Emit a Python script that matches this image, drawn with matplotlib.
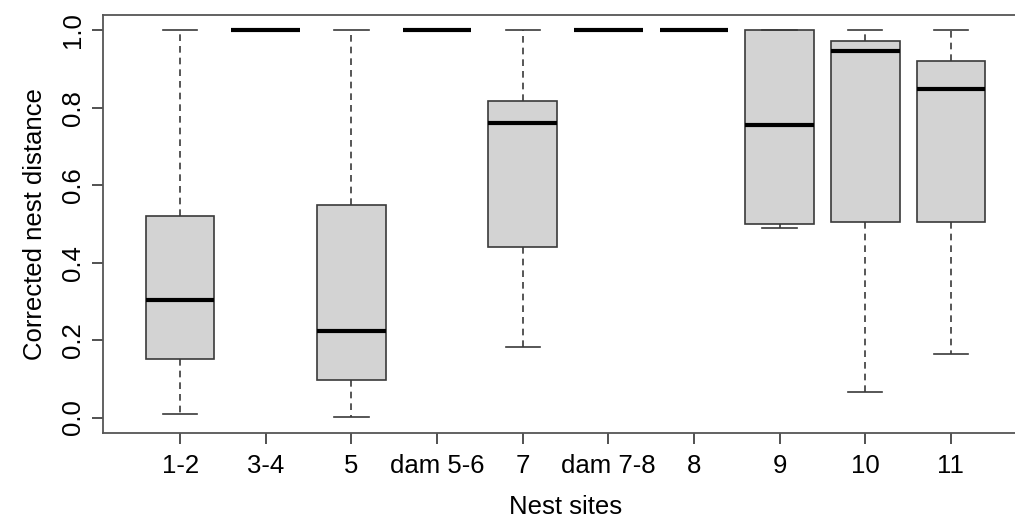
import matplotlib
matplotlib.use('Agg')
import matplotlib.pyplot as plt

plt.rcParams['font.family'] = ['Liberation Sans', 'DejaVu Sans']

sites = ['1-2', '3-4', '5', 'dam 5-6', '7', 'dam 7-8', '8', '9', '10', '11']
whisk_lo = [0.010, 1.0, 0.002, 1.0, 0.181, 1.0, 1.0, 0.489, 0.065, 0.164]
q1 = [0.151, 1.0, 0.098, 1.0, 0.440, 1.0, 1.0, 0.500, 0.504, 0.504]
med = [0.304, 1.0, 0.224, 1.0, 0.760, 1.0, 1.0, 0.755, 0.946, 0.848]
q3 = [0.521, 1.0, 0.549, 1.0, 0.818, 1.0, 1.0, 1.0, 0.974, 0.921]
whisk_hi = [1.0, 1.0, 1.0, 1.0, 1.0, 1.0, 1.0, 1.0, 1.0, 1.0]

stats = []
for i, name in enumerate(sites):
    stats.append(dict(label=name, whislo=whisk_lo[i], q1=q1[i], med=med[i],
                      q3=q3[i], whishi=whisk_hi[i], fliers=[]))

fig = plt.figure(figsize=(10.15, 5.17), dpi=100)
# right border of the original plot is cut off by the image edge
ax = fig.add_axes([103 / 1015, 1 - 433 / 517, 925 / 1015, 418 / 517])

edge = '#3a3a3a'
ax.bxp(stats, positions=range(1, 11), widths=0.8, patch_artist=True,
       showfliers=False,
       boxprops=dict(facecolor='#d3d3d3', edgecolor=edge, linewidth=1.2),
       medianprops=dict(color='black', linewidth=3, solid_capstyle='butt'),
       whiskerprops=dict(color=edge, linewidth=1.2, linestyle=(0, (4, 3))),
       capprops=dict(color=edge, linewidth=1.2),
       capwidths=0.4)

ax.set_xlim(0.1, 10.9)
ax.set_ylim(-0.04, 1.04)
ax.set_yticks([0.0, 0.2, 0.4, 0.6, 0.8, 1.0])
ax.set_yticklabels(['0.0', '0.2', '0.4', '0.6', '0.8', '1.0'], rotation=90, va='center')
ax.set_xticks(range(1, 11))
ax.set_xticklabels(sites)
ax.tick_params(axis='both', labelsize=18.5, length=8, width=1.2, color='#333333', pad=5)
ax.tick_params(axis='x', pad=7)
for s in ax.spines.values():
    s.set_linewidth(1.3)
    s.set_color('#555555')

ax.set_xlabel('Nest sites', fontsize=18.5, labelpad=12)
ax.set_ylabel('Corrected nest distance', fontsize=18.5, labelpad=10)

fig.savefig('out.png', dpi=100)
